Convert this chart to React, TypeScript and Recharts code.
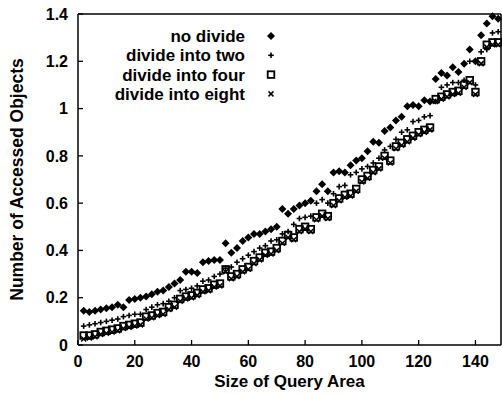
import { Legend, Scatter, ScatterChart, XAxis, YAxis } from "recharts";

const xValues = [
  2, 4, 6, 8, 10, 12, 14, 16, 18, 20, 22, 24, 26, 28, 30, 32, 34, 36, 38, 40, 42, 44, 46, 48, 50, 52, 54, 56, 58, 60, 62, 64, 66, 68, 70, 72, 74,
  76, 78, 80, 82, 84, 86, 88, 90, 92, 94, 96, 98, 100, 102, 104, 106, 108, 110, 112, 114, 116, 118, 120, 122, 124, 126, 128, 130, 132, 134, 136,
  138, 140, 142, 144, 146, 148
];

const noDivide = [
  0.145, 0.14, 0.145, 0.15, 0.155, 0.16, 0.17, 0.16, 0.19, 0.195, 0.2, 0.205, 0.215, 0.225, 0.23, 0.245, 0.26, 0.275, 0.31, 0.31, 0.305, 0.35,
  0.355, 0.36, 0.36, 0.43, 0.39, 0.41, 0.44, 0.455, 0.47, 0.47, 0.48, 0.49, 0.5, 0.575, 0.555, 0.575, 0.59, 0.6, 0.61, 0.65, 0.68, 0.65, 0.73,
  0.735, 0.73, 0.76, 0.78, 0.79, 0.82, 0.86, 0.855, 0.905, 0.92, 0.95, 0.965, 1.01, 1.015, 1.01, 1.035, 1.03, 1.125, 1.15, 1.14, 1.175, 1.155,
  1.19, 1.25, 1.2, 1.31, 1.36, 1.39, 1.38
];

const intoTwo = [
  0.08, 0.085, 0.09, 0.095, 0.1, 0.105, 0.11, 0.12, 0.125, 0.13, 0.13, 0.15, 0.16, 0.17, 0.175, 0.185, 0.2, 0.23, 0.235, 0.24, 0.25, 0.27, 0.275,
  0.29, 0.3, 0.325, 0.33, 0.35, 0.365, 0.38, 0.395, 0.41, 0.42, 0.44, 0.445, 0.47, 0.48, 0.51, 0.535, 0.54, 0.545, 0.6, 0.615, 0.6, 0.64, 0.67,
  0.675, 0.72, 0.73, 0.745, 0.755, 0.77, 0.79, 0.825, 0.84, 0.87, 0.9, 0.91, 0.945, 0.95, 0.965, 0.97, 1.03, 1.09, 1.1, 1.11, 1.11, 1.12, 1.2,
  1.1, 1.24, 1.25, 1.32, 1.325
];

const intoFour = [
  0.04, 0.04, 0.045, 0.055, 0.06, 0.065, 0.07, 0.08, 0.085, 0.09, 0.095, 0.12, 0.125, 0.135, 0.14, 0.16, 0.17, 0.195, 0.205, 0.21, 0.22, 0.235,
  0.24, 0.255, 0.26, 0.32, 0.29, 0.3, 0.32, 0.33, 0.355, 0.37, 0.39, 0.395, 0.41, 0.44, 0.465, 0.455, 0.49, 0.5, 0.49, 0.54, 0.555, 0.545, 0.6,
  0.62, 0.635, 0.64, 0.66, 0.7, 0.715, 0.74, 0.755, 0.8, 0.78, 0.84, 0.855, 0.87, 0.885, 0.9, 0.91, 0.92, 1.04, 1.05, 1.06, 1.07, 1.075, 1.1,
  1.12, 1.07, 1.2, 1.27, 1.28, 1.28
];

const intoEight = [
  0.025, 0.03, 0.035, 0.045, 0.05, 0.055, 0.06, 0.07, 0.075, 0.08, 0.085, 0.11, 0.115, 0.125, 0.13, 0.15, 0.16, 0.185, 0.195, 0.2, 0.21, 0.225,
  0.23, 0.245, 0.25, 0.31, 0.28, 0.29, 0.31, 0.32, 0.345, 0.36, 0.38, 0.385, 0.4, 0.43, 0.455, 0.445, 0.48, 0.49, 0.48, 0.53, 0.545, 0.535, 0.59,
  0.61, 0.625, 0.63, 0.65, 0.69, 0.705, 0.73, 0.745, 0.79, 0.77, 0.83, 0.845, 0.86, 0.875, 0.89, 0.9, 0.91, 1.03, 1.04, 1.05, 1.06, 1.065, 1.09,
  1.11, 1.06, 1.19, 1.26, 1.27, 1.27
];

const seriesNames = ["no divide", "divide into two", "divide into four", "divide into eight"];
const xTicks = [0, 20, 40, 60, 80, 100, 120, 140];
const yTicks = [0, 0.2, 0.4, 0.6, 0.8, 1, 1.2, 1.4];

const toPoints = (ys: number[]) => xValues.map((x, i) => ({ x, y: ys[i] }));

const FONT = "'Liberation Sans', Arial, Helvetica, sans-serif";

function Marker({ kind, cx, cy }: { kind: number; cx: number; cy: number }) {
  if (kind === 0) {
    return <polygon points={`${cx},${cy - 4} ${cx + 4},${cy} ${cx},${cy + 4} ${cx - 4},${cy}`} fill="#000" />;
  }
  if (kind === 1) {
    return (
      <g stroke="#000" strokeWidth={1.6}>
        <line x1={cx - 2.8} y1={cy} x2={cx + 2.8} y2={cy} />
        <line x1={cx} y1={cy - 2.8} x2={cx} y2={cy + 2.8} />
      </g>
    );
  }
  if (kind === 2) {
    return <rect x={cx - 3.3} y={cy - 3.3} width={6.6} height={6.6} fill="none" stroke="#000" strokeWidth={1.8} />;
  }
  return (
    <g stroke="#000" strokeWidth={1.5}>
      <line x1={cx - 2.5} y1={cy - 2.5} x2={cx + 2.5} y2={cy + 2.5} />
      <line x1={cx - 2.5} y1={cy + 2.5} x2={cx + 2.5} y2={cy - 2.5} />
    </g>
  );
}

const shapeFor = (kind: number) => (props: any) => <Marker kind={kind} cx={props.cx} cy={props.cy} />;

function LegendBox() {
  return (
    <svg width={300} height={110} style={{ display: "block" }}>
      {seriesNames.map((name, i) => {
        const y = 36 + i * 19.3;
        return (
          <g key={name}>
            <text x={245} y={y} dy="0.35em" textAnchor="end" fontFamily={FONT} fontSize={17} fontWeight={700} fill="#000">
              {name}
            </text>
            <Marker kind={i} cx={271} cy={y} />
          </g>
        );
      })}
    </svg>
  );
}

export default function App() {
  const tickStyle = { fill: "#000", fontSize: 16, fontWeight: 700, fontFamily: FONT };
  const line = { stroke: "#000", strokeWidth: 1.5 };
  const tickLine = { stroke: "#000", strokeWidth: 1.3 };
  return (
    <div style={{ position: "absolute", left: 0, top: 0, width: 502, height: 394, background: "#fff" }}>
      <ScatterChart width={502} height={394} margin={{ top: 13, right: 0, left: 77, bottom: 48 }}>
        <XAxis
          dataKey="x"
          type="number"
          domain={[0, 149]}
          ticks={xTicks}
          height={1}
          tickSize={-5}
          tickMargin={16}
          tick={tickStyle}
          axisLine={line}
          tickLine={tickLine}
          label={{ value: "Size of Query Area", position: "bottom", offset: 29, fill: "#000", fontSize: 17, fontWeight: 700, fontFamily: FONT }}
        />
        <XAxis
          xAxisId="top"
          orientation="top"
          type="number"
          domain={[0, 149]}
          ticks={xTicks}
          height={1}
          tickSize={-5}
          tick={false}
          axisLine={line}
          tickLine={tickLine}
        />
        <YAxis
          dataKey="y"
          type="number"
          domain={[0, 1.4]}
          ticks={yTicks}
          width={1}
          tickSize={-5}
          tickMargin={15}
          tick={tickStyle}
          tickFormatter={(v: number) => String(v)}
          axisLine={line}
          tickLine={tickLine}
          label={{
            value: "Number of Accessed Objects",
            angle: -90,
            position: "center",
            dx: -61,
            fill: "#000",
            fontSize: 17.5,
            fontWeight: 700,
            fontFamily: FONT
          }}
        />
        <YAxis
          yAxisId="right"
          orientation="right"
          type="number"
          domain={[0, 1.4]}
          ticks={yTicks}
          width={1}
          tickSize={-5}
          tick={false}
          axisLine={line}
          tickLine={tickLine}
        />
        <Legend
          layout="vertical"
          align="center"
          verticalAlign="middle"
          content={() => <LegendBox />}
          wrapperStyle={{ position: "absolute", left: 0, top: 0, width: 300, height: 110 }}
        />
        <Scatter name={seriesNames[0]} data={toPoints(noDivide)} shape={shapeFor(0)} isAnimationActive={false} />
        <Scatter name={seriesNames[1]} data={toPoints(intoTwo)} shape={shapeFor(1)} isAnimationActive={false} />
        <Scatter name={seriesNames[2]} data={toPoints(intoFour)} shape={shapeFor(2)} isAnimationActive={false} />
        <Scatter name={seriesNames[3]} data={toPoints(intoEight)} shape={shapeFor(3)} isAnimationActive={false} />
      </ScatterChart>
    </div>
  );
}
